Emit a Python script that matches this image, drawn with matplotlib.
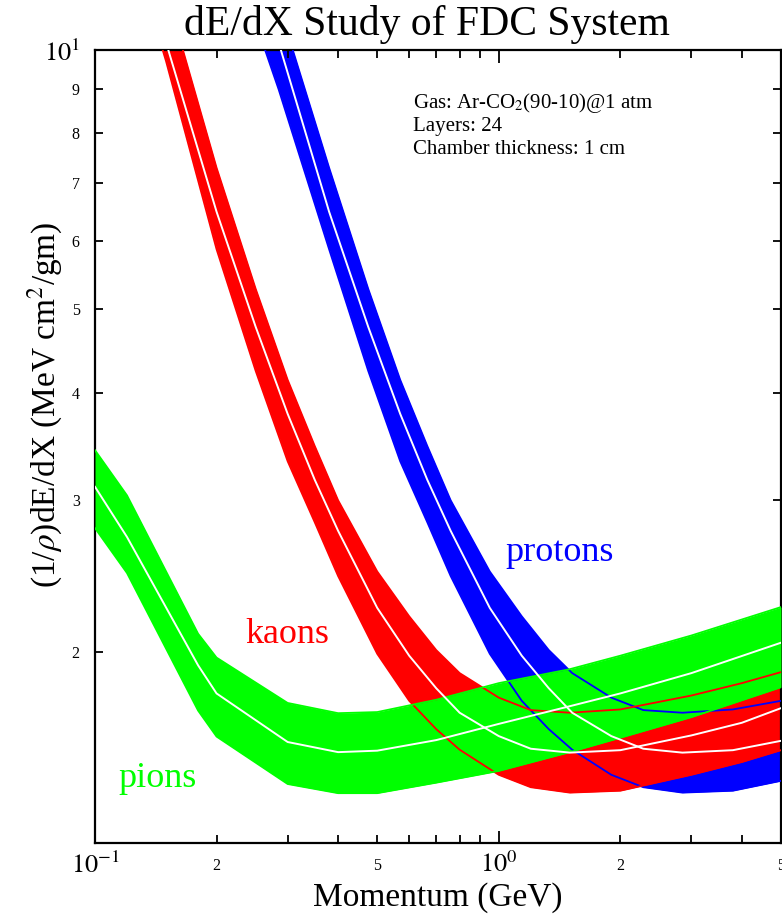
import matplotlib
matplotlib.use("Agg")
import matplotlib.pyplot as plt

plt.rcParams['font.family'] = ['Liberation Serif', 'DejaVu Serif']
plt.rcParams['mathtext.fontset'] = 'stix'

# momentum (GeV) and dE/dx band: centre, lower edge, upper edge
pion_p = [0.1, 0.12, 0.18, 0.2, 0.3, 0.4, 0.5, 0.7, 1.0, 1.5, 2.0, 3.0, 5.0]
pion_mid = [3.11, 2.72, 1.93, 1.79, 1.572, 1.530, 1.536, 1.58, 1.65, 1.73, 1.79, 1.89, 2.05]
pion_lo = [2.785, 2.47, 1.71, 1.595, 1.405, 1.371, 1.371, 1.41, 1.455, 1.53, 1.59, 1.68, 1.82]
pion_hi = [3.43, 3.04, 2.10, 1.97, 1.745, 1.698, 1.703, 1.76, 1.84, 1.91, 1.98, 2.09, 2.255]

kaon_p = [0.14, 0.15, 0.2, 0.25, 0.3, 0.35, 0.4, 0.5, 0.6, 0.7, 0.8, 1.0, 1.2, 1.5, 2.0, 3.0, 4.0, 5.0]
kaon_mid = [11.4, 10.2, 6.49, 4.77, 3.78, 3.17, 2.765, 2.25, 1.98, 1.815, 1.70, 1.597, 1.544, 1.528, 1.538, 1.60, 1.655, 1.721]
kaon_lo = [10.8, 9.7, 5.87, 4.24, 3.33, 2.83, 2.45, 1.99, 1.755, 1.627, 1.54, 1.44, 1.393, 1.373, 1.38, 1.44, 1.49, 1.538]
kaon_hi = [13.1, 11.7, 7.30, 5.28, 4.14, 3.47, 3.0, 2.48, 2.20, 2.01, 1.89, 1.77, 1.712, 1.70, 1.715, 1.78, 1.84, 1.895]

proton_p = [0.26, 0.285, 0.38, 0.475, 0.57, 0.665, 0.76, 0.95, 1.14, 1.33, 1.52, 1.9, 2.28, 2.85, 3.8, 5.0]
proton_mid = [11.8, 10.2, 6.49, 4.77, 3.78, 3.17, 2.765, 2.25, 1.98, 1.815, 1.70, 1.597, 1.544, 1.528, 1.538, 1.577]
proton_lo = [10.2, 9.0, 5.87, 4.24, 3.33, 2.83, 2.45, 1.99, 1.755, 1.627, 1.54, 1.44, 1.393, 1.373, 1.38, 1.417]
proton_hi = [13.2, 11.3, 7.30, 5.28, 4.14, 3.47, 3.0, 2.48, 2.20, 2.01, 1.89, 1.77, 1.712, 1.70, 1.715, 1.755]

x_minor = [0.2, 0.3, 0.4, 0.5, 0.6, 0.7, 0.8, 0.9, 2, 3, 4, 5]
x_minor_labels = ['2', '', '', '5', '', '', '', '', '2', '', '', '5']
y_minor = [2, 3, 4, 5, 6, 7, 8, 9]

W, H = 782, 917
fig = plt.figure(figsize=(W / 100, H / 100), dpi=100)
ax = fig.add_axes([95 / W, 1 - 843 / H, (781 - 95) / W, (843 - 50) / H])
ax.set_xscale('log')
ax.set_yscale('log')

bands = [
    (proton_p, proton_mid, proton_lo, proton_hi, '#0000ff'),
    (kaon_p, kaon_mid, kaon_lo, kaon_hi, '#ff0000'),
    (pion_p, pion_mid, pion_lo, pion_hi, '#00ff00'),
]
for i, (p, mid, lo, hi, col) in enumerate(bands):
    ax.fill_between(p, lo, hi, color=col, lw=0, zorder=1 + i)
for p, mid, lo, hi, col in bands:
    ax.plot(p, lo, color=col, lw=1.3, zorder=5)
    ax.plot(p, hi, color=col, lw=1.3, zorder=5)
for p, mid, lo, hi, col in bands:
    ax.plot(p, mid, color='white', lw=1.4, zorder=6)

ax.set_xlim(0.1, 5.0)
ax.set_ylim(1.2, 10)

ax.set_xticks([0.1, 1.0])
ax.set_xticklabels([r'$10^{-1}$', r'$10^{0}$'], fontsize=19)
ax.set_xticks(x_minor, minor=True)
ax.set_xticklabels(x_minor_labels, minor=True, fontsize=11.5)
ax.set_yticks([10])
ax.set_yticklabels([r'$10^{1}$'], fontsize=19)
ax.set_yticks(y_minor, minor=True)
ax.set_yticklabels([str(v) for v in y_minor], minor=True, fontsize=11.5)

ax.tick_params(which='both', direction='in', top=True, right=True, width=1.3)
ax.tick_params(which='major', length=9, pad=6)
ax.tick_params(which='minor', length=6)
ax.tick_params(axis='x', which='minor', pad=11)
ax.tick_params(axis='y', which='both', pad=11)
for s in ax.spines.values():
    s.set_linewidth(1.6)

fig.text(427 / W, 1 - 35 / H, 'dE/dX Study of FDC System', fontsize=30,
         ha='center', va='baseline')
fig.text(45 / W, 1 - 405 / H, r'(1/$\rho$)dE/dX (MeV cm$^2$/gm)', fontsize=24,
         rotation=90, ha='center', va='center')
fig.text(438 / W, 1 - 906 / H, 'Momentum (GeV)', fontsize=24,
         ha='center', va='baseline')

info = ['Gas: Ar-CO$_2$(90-10)@1 atm', 'Layers: 24', 'Chamber thickness: 1 cm']
for k, line in enumerate(info):
    fig.text(413 / W, 1 - (108 + 23 * k) / H, line, fontsize=15, va='baseline')

fig.text(505 / W, 1 - 561 / H, 'protons', fontsize=26, color='#0000ff', va='baseline')
fig.text(245 / W, 1 - 643 / H, 'kaons', fontsize=26, color='#ff0000', va='baseline')
fig.text(118 / W, 1 - 787 / H, 'pions', fontsize=26, color='#00ff00', va='baseline')

fig.savefig('out.png', dpi=100)
